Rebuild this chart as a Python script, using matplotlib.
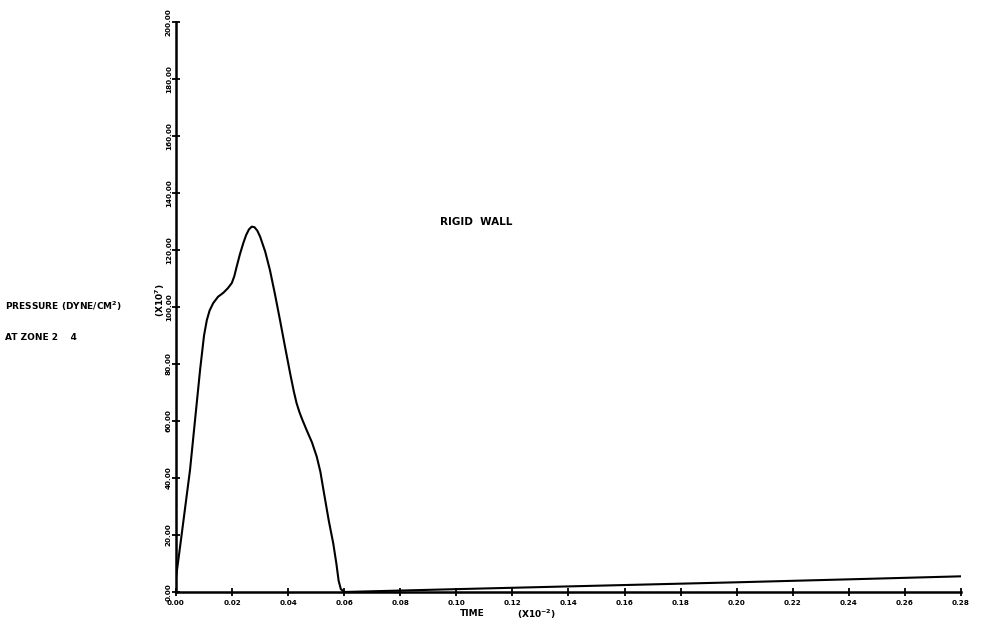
import matplotlib
matplotlib.use("Agg")
import matplotlib.pyplot as plt

# Data (time in units of 1e-2, pressure in units of 1e7 dyne/cm^2)
time = [0.0, 0.0020, 0.0050, 0.0086, 0.0100, 0.0110, 0.0120, 0.0133, 0.0150,
        0.0169, 0.0185, 0.0199, 0.0208, 0.0216, 0.0228, 0.0240, 0.0250, 0.0260,
        0.0270, 0.0280, 0.0290, 0.0300, 0.0318, 0.0335, 0.0353, 0.0371, 0.0389,
        0.0407, 0.0420, 0.0430, 0.0440, 0.0450, 0.0466, 0.0485, 0.0502, 0.0515,
        0.0526, 0.0545, 0.0561, 0.0572, 0.0580, 0.0588, 0.0600, 0.1000, 0.1500,
        0.2000, 0.2500, 0.2800]
pressure = [5.0, 20.0, 42.8, 78.0, 90.0, 95.4, 98.8, 101.4, 103.6,
            105.0, 106.6, 108.4, 110.8, 114.0, 118.5, 122.4, 125.2, 127.2,
            128.2, 128.0, 126.8, 124.7, 119.5, 113.0, 104.5, 95.4, 86.0,
            76.8, 70.5, 66.3, 63.2, 60.6, 56.8, 52.5, 47.5, 42.2,
            35.8, 25.0, 17.0, 10.0, 4.0, 1.0, 0.0, 1.0, 2.2,
            3.4, 4.7, 5.5]

xticks = [0.00, 0.02, 0.04, 0.06, 0.08, 0.10, 0.12, 0.14, 0.16, 0.18, 0.20,
          0.22, 0.24, 0.26, 0.28]
yticks = [0, 20, 40, 60, 80, 100, 120, 140, 160, 180, 200]

FONT = "DejaVu Sans"
fig = plt.figure(figsize=(9.81, 6.24), dpi=100)
ax = fig.add_axes([0.1794, 0.0513, 0.8002, 0.9134])

ax.plot(time, pressure, color="black", lw=1.5)
ax.set_xlim(0, 0.28)
ax.set_ylim(0, 200)

for s in ["top", "right"]:
    ax.spines[s].set_visible(False)
for s in ["left", "bottom"]:
    ax.spines[s].set_linewidth(1.8)

ax.set_xticks(xticks)
ax.set_xticklabels([f"{v:.2f}" for v in xticks], fontsize=5.2,
                   fontweight="bold", family=FONT)
ax.set_yticks(yticks)
ax.set_yticklabels([f"{v:.2f}" for v in yticks], fontsize=5.2,
                   fontweight="bold", family=FONT, rotation=90, va="center")
ax.tick_params(axis="x", direction="inout", length=6, width=1.3, pad=3)
ax.tick_params(axis="y", direction="inout", length=6, width=1.3, pad=0)

txt = dict(fontsize=6.5, fontweight="bold", family=FONT, color="black")
fig.text(5 / 981, 1 - 306 / 624, "PRESSURE (DYNE/CM$^\\mathbf{2}$)", va="center", ha="left", **txt)
fig.text(5 / 981, 1 - 338 / 624, "AT ZONE 2    4", va="center", ha="left", **txt)
fig.text(440 / 981, 1 - 222 / 624, "RIGID  WALL", va="center", ha="left",
         fontsize=7.5, fontweight="bold", family=FONT)
fig.text(460 / 981, 1 - 614 / 624, "TIME", va="center", ha="left", **txt)
fig.text(517 / 981, 1 - 614 / 624, "(X10$^\\mathbf{-2}$)", va="center", ha="left", **txt)
fig.text(160 / 981, 1 - 300 / 624, "(X10$^\\mathbf{7}$)", va="center", ha="center",
         rotation=90, **txt)

fig.savefig("out.png", dpi=100, facecolor="white")
